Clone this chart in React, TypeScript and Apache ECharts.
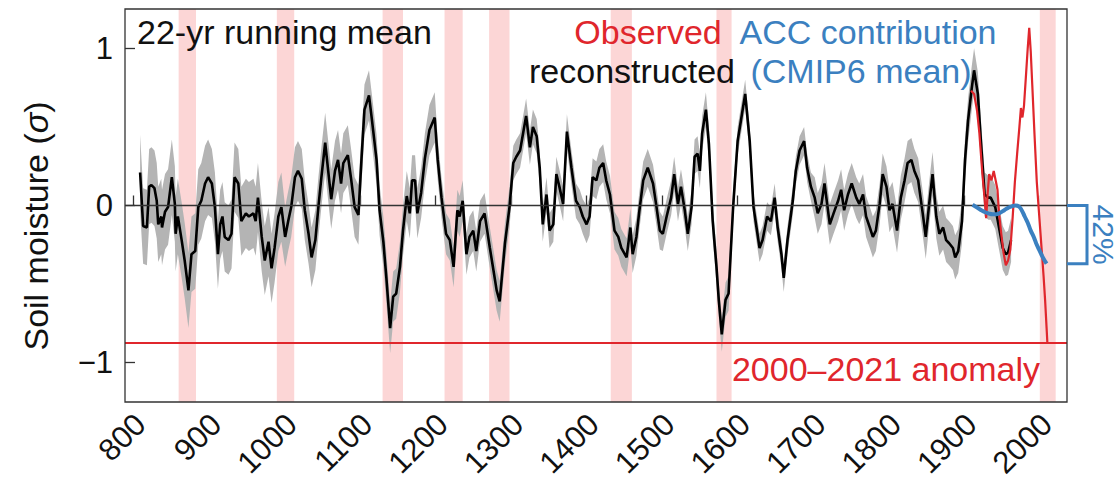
import React, { useEffect, useRef } from "react";
import * as echarts from "echarts";

const X_MIN = 789;
const X_MAX = 2036;
const Y_MIN = -1.25;
const Y_MAX = 1.25;

const xTickYears = [800, 900, 1000, 1100, 1200, 1300, 1400, 1500, 1600, 1700, 1800, 1900, 2000];
const yTickValues = [-1, 0, 1];

// megadrought bands (start year, end year)
const droughtBands: [number, number][] = [
  [860, 883], [990, 1013], [1130, 1157], [1212, 1236], [1271, 1298],
  [1432, 1460], [1572, 1592], [2000, 2021],
];

// 22-yr running mean, reconstructed soil moisture (sigma)
const reconstructed: [number, number][] = [
  [809, 0.21], [813, -0.13], [818, -0.14], [821, 0.12], [824, 0.13], [828, 0.11], [831, 0.03],
  [833, -0.12], [837, -0.07], [838, -0.14], [842, -0.04], [846, -0.01], [851, 0.18], [855, 0.01],
  [856, -0.18], [859, -0.07], [864, -0.22], [868, -0.35], [873, -0.54], [877, -0.31], [882, -0.29],
  [886, -0.01], [890, 0.03], [895, 0.14], [899, 0.18], [904, 0.14], [908, -0.01], [912, -0.31],
  [915, -0.12], [918, -0.07], [921, -0.2], [926, -0.22], [930, -0.18], [934, 0.18], [939, 0.14],
  [943, -0.1], [949, -0.05], [953, -0.07], [959, -0.05], [962, -0.1], [965, 0.05], [970, -0.2],
  [974, -0.35], [979, -0.23], [983, -0.4], [987, -0.27], [992, -0.07], [996, -0.01], [1001, -0.2],
  [1005, -0.1], [1009, -0.01], [1014, 0.18], [1018, 0.22], [1023, 0.17], [1027, -0.03], [1032, -0.18],
  [1036, -0.33], [1041, -0.22], [1045, -0.01], [1049, 0.18], [1054, 0.4], [1058, 0.22], [1062, 0.04],
  [1067, 0.22], [1071, 0.29], [1075, 0.14], [1078, 0.27], [1084, 0.32], [1088, 0.18], [1093, -0.01],
  [1098, -0.06], [1102, 0.29], [1106, 0.61], [1112, 0.7], [1116, 0.54], [1122, 0.29], [1126, -0.03],
  [1131, -0.23], [1135, -0.46], [1140, -0.78], [1144, -0.58], [1148, -0.56], [1153, -0.39], [1157, -0.16],
  [1162, 0.06], [1166, -0.05], [1169, 0.16], [1173, 0.16], [1176, -0.05], [1181, 0.08], [1186, 0.3],
  [1192, 0.48], [1199, 0.56], [1203, 0.29], [1208, 0.05], [1214, -0.18], [1219, -0.22], [1224, -0.39],
  [1229, -0.03], [1232, -0.07], [1236, 0.03], [1241, -0.31], [1245, -0.2], [1250, -0.16], [1254, -0.29],
  [1259, -0.1], [1265, -0.05], [1272, -0.27], [1276, -0.39], [1281, -0.54], [1285, -0.61], [1292, -0.24],
  [1298, -0.01], [1303, 0.27], [1307, 0.31], [1312, 0.35], [1316, 0.46], [1320, 0.57], [1325, 0.37],
  [1329, 0.5], [1334, 0.44], [1338, 0.24], [1342, -0.12], [1347, 0.07], [1351, -0.16], [1356, -0.12],
  [1360, 0.2], [1364, 0.12], [1369, 0.01], [1374, 0.47], [1380, 0.24], [1386, 0.03], [1391, -0.01],
  [1395, -0.07], [1400, -0.12], [1404, -0.07], [1408, 0.18], [1413, 0.16], [1417, 0.24], [1422, 0.27],
  [1426, 0.16], [1431, 0.07], [1437, -0.16], [1442, -0.2], [1446, -0.27], [1453, -0.33], [1458, -0.14],
  [1461, -0.31], [1466, -0.2], [1470, -0.03], [1475, 0.16], [1481, 0.24], [1488, 0.14], [1492, 0.01],
  [1497, -0.16], [1501, -0.18], [1506, -0.07], [1512, 0.05], [1516, 0.2], [1521, 0.01], [1525, 0.12],
  [1530, -0.03], [1534, -0.18], [1539, -0.01], [1543, 0.31], [1547, 0.33], [1550, 0.22], [1553, 0.46],
  [1558, 0.61], [1562, 0.39], [1567, -0.1], [1572, -0.39], [1575, -0.6], [1579, -0.82], [1584, -0.6],
  [1588, -0.56], [1594, -0.01], [1600, 0.41], [1605, 0.56], [1610, 0.71], [1616, 0.41], [1621, -0.01],
  [1625, -0.14], [1629, -0.27], [1633, -0.22], [1639, -0.07], [1644, -0.1], [1649, 0.05], [1653, -0.14],
  [1658, -0.31], [1661, -0.46], [1666, -0.22], [1673, 0.03], [1677, 0.22], [1682, 0.35], [1688, 0.41],
  [1692, 0.24], [1697, 0.12], [1702, 0.05], [1706, -0.05], [1711, 0.01], [1715, 0.14], [1722, -0.12],
  [1727, -0.05], [1733, 0.03], [1737, 0.1], [1741, -0.03], [1746, 0.07], [1751, 0.14], [1757, 0.05],
  [1761, 0.01], [1766, 0.07], [1770, -0.07], [1775, -0.14], [1779, -0.2], [1783, -0.16], [1788, 0.01],
  [1792, 0.2], [1797, 0.12], [1801, -0.03], [1805, 0.01], [1811, -0.16], [1816, 0.05], [1821, 0.16],
  [1825, 0.27], [1830, 0.29], [1834, 0.22], [1839, 0.16], [1845, -0.05], [1849, -0.2], [1854, 0.03],
  [1858, 0.2], [1863, -0.07], [1867, -0.18], [1872, -0.14], [1876, -0.22], [1880, -0.24], [1885, -0.27],
  [1888, -0.33], [1892, -0.29], [1897, -0.1], [1901, 0.29], [1905, 0.54], [1910, 0.75], [1913, 0.86],
  [1918, 0.71], [1922, 0.41], [1927, 0.07], [1932, 0.05], [1935, 0.05], [1941, -0.01], [1946, -0.14],
  [1951, -0.27], [1955, -0.31], [1958, -0.3], [1962, -0.22],
];

// half-width of the grey uncertainty envelope, per century
const reconSpreadByCentury: [number, number][] = [
  [800, 0.24], [900, 0.22], [1000, 0.19], [1100, 0.16], [1200, 0.13], [1300, 0.11],
  [1400, 0.12], [1500, 0.11], [1600, 0.09], [1700, 0.13], [1800, 0.14], [1900, 0.14],
];

// observed 22-yr running mean
const observed: [number, number][] = [
  [1909, 0.73], [1913, 0.71], [1917, 0.6], [1920, 0.46], [1924, 0.2], [1927, 0.04], [1929, -0.08],
  [1931, 0.08], [1933, 0.2], [1936, 0.16], [1939, 0.22], [1942, 0.15], [1944, 0.1], [1946, -0.05],
  [1949, -0.18], [1952, -0.3], [1955, -0.38], [1958, -0.35], [1961, -0.28], [1964, -0.08], [1967, 0.15],
  [1970, 0.33], [1973, 0.5], [1975, 0.62], [1977, 0.56], [1979, 0.63], [1982, 0.85], [1984, 1.0],
  [1986, 1.13], [1988, 0.98], [1990, 0.77], [1993, 0.45], [1996, 0.15], [1999, -0.05], [2002, -0.25],
  [2005, -0.45], [2007, -0.6], [2009, -0.78], [2010, -0.873],
];

// anthropogenic climate change contribution (CMIP6 mean)
const accContribution: [number, number][] = [
  [1911, 0.005], [1916, -0.01], [1921, -0.025], [1926, -0.04], [1932, -0.05], [1938, -0.055],
  [1943, -0.055], [1948, -0.045], [1953, -0.03], [1958, -0.015], [1963, -0.005], [1968, 0.0],
  [1972, -0.005], [1976, -0.03], [1980, -0.07], [1984, -0.11], [1988, -0.16], [1992, -0.2],
  [1996, -0.25], [2000, -0.29], [2004, -0.33], [2009, -0.37],
];

const anomaly2000to2021 = -0.873;
const accShareLabel = "42%";

const FONT = "'Liberation Sans', Arial, Helvetica, sans-serif";
const RED = "#e0262c";
const BLUE = "#3b80c0";
const PINK = "#fcd6d6";
const GREY = "#b4b4b4";
const ANN = 34;

function spreadFor(year: number): number {
  let s = reconSpreadByCentury[0][1];
  for (const [c, v] of reconSpreadByCentury) if (year >= c) s = v;
  return s;
}

export default function App() {
  const ref = useRef<HTMLDivElement>(null);

  useEffect(() => {
    if (!ref.current) return;
    const chart = echarts.init(ref.current, null, { renderer: "svg" });

    const upper = reconstructed.map(([x, y]) => [x, y + spreadFor(x)]);
    const lower = reconstructed.map(([x, y]) => [x, y - spreadFor(x)]);

    const option: any = {
      animation: false,
      grid: { left: 125, right: 52, top: 9, bottom: 80, outerBoundsMode: "none" },
      xAxis: {
        type: "value",
        min: X_MIN,
        max: X_MAX,
        axisLine: { show: false },
        splitLine: { show: false },
        axisTick: {
          inside: true,
          length: 10,
          customValues: xTickYears,
          lineStyle: { color: "#333", width: 1.3 },
        },
        axisLabel: {
          customValues: xTickYears,
          rotate: 45,
          fontSize: 31,
          lineHeight: 20,
          color: "#111",
          margin: 10,
          align: "right",
          verticalAlign: "top",
          fontFamily: FONT,
          formatter: (v: number) => String(v),
        },
      },
      yAxis: {
        type: "value",
        min: Y_MIN,
        max: Y_MAX,
        axisLine: { show: false },
        splitLine: { show: false },
        axisTick: {
          inside: true,
          length: 10,
          customValues: yTickValues,
          lineStyle: { color: "#333", width: 1.3 },
        },
        axisLabel: {
          customValues: yTickValues,
          fontSize: 31,
          color: "#111",
          margin: 12,
          fontFamily: FONT,
          formatter: (v: number) => (v < 0 ? "\u2212" + Math.abs(v) : String(v)),
        },
      },
      series: [
        {
          type: "line",
          name: "droughts",
          data: [],
          z: 1,
          silent: true,
          markArea: {
            silent: true,
            itemStyle: { color: PINK },
            data: droughtBands.map(([a, b]) => [{ xAxis: a }, { xAxis: b }]),
          },
        },
        {
          type: "custom",
          name: "uncertainty",
          z: 2,
          silent: true,
          data: reconstructed,
          encode: { x: 0, y: 1 },
          renderItem: (params: any, api: any) => {
            if (params.dataIndex !== 0) return null;
            const up = upper.map((p) => api.coord(p));
            const lo = lower.map((p) => api.coord(p)).reverse();
            return {
              type: "polygon",
              shape: { points: up.concat(lo) },
              style: { fill: GREY },
            };
          },
        },
        {
          type: "line",
          name: "zero",
          data: [],
          z: 3,
          silent: true,
          markLine: {
            silent: true,
            symbol: ["none", "none"],
            label: { show: false },
            lineStyle: { color: "#333", width: 1.3, type: "solid" },
            data: [{ yAxis: 0 }],
          },
        },
        {
          type: "line",
          name: "reconstructed",
          data: reconstructed,
          z: 4,
          showSymbol: false,
          symbol: "none",
          lineStyle: { color: "#000", width: 2.6 },
        },
        {
          type: "line",
          name: "anomaly",
          data: [],
          z: 5,
          silent: true,
          markLine: {
            silent: true,
            symbol: ["none", "none"],
            label: { show: false },
            lineStyle: { color: RED, width: 2.2, type: "solid" },
            data: [{ yAxis: anomaly2000to2021 }],
          },
        },
        {
          type: "line",
          name: "observed",
          data: observed,
          z: 6,
          symbol: "none",
          lineStyle: { color: RED, width: 2.2 },
        },
        {
          type: "line",
          name: "acc",
          data: accContribution,
          z: 7,
          symbol: "none",
          smooth: true,
          lineStyle: { color: BLUE, width: 4 },
        },
      ],
    };

    chart.setOption(option);

    const tl = chart.convertToPixel({ gridIndex: 0 }, [X_MIN, Y_MAX]) as number[];
    const br = chart.convertToPixel({ gridIndex: 0 }, [X_MAX, Y_MIN]) as number[];
    const z0 = chart.convertToPixel({ gridIndex: 0 }, [X_MAX, 0]) as number[];
    const accEnd = accContribution[accContribution.length - 1][1];
    const z1 = chart.convertToPixel({ gridIndex: 0 }, [X_MAX, accEnd]) as number[];

    const txt = (text: string, x: number, y: number, fill: string, align = "center") => ({
      type: "text",
      x,
      y,
      z: 100,
      silent: true,
      style: {
        text,
        fill,
        font: `${ANN}px ${FONT}`,
        textAlign: align,
        textVerticalAlign: "middle",
      },
    });

    chart.setOption({
      graphic: [
        {
          type: "rect",
          z: 90,
          silent: true,
          shape: { x: tl[0], y: tl[1], width: br[0] - tl[0], height: br[1] - tl[1] },
          style: { fill: "none", stroke: "#333", lineWidth: 1.3 },
        },
        txt("22-yr running mean", 137, 32, "#111", "left"),
        txt("Observed", 648, 32, RED),
        txt("reconstructed", 632, 71, "#111"),
        txt("ACC contribution", 868, 32, BLUE),
        txt("(CMIP6 mean)", 861, 71, BLUE),
        txt("2000\u20132021 anomaly", 886, 369, RED),
        {
          type: "text",
          x: 36,
          y: 226,
          rotation: Math.PI / 2,
          silent: true,
          style: {
            text: "{a|Soil moisture (}{b|\u03c3}{a|)}",
            fill: "#111",
            font: `${ANN}px ${FONT}`,
            textAlign: "center",
            textVerticalAlign: "middle",
            rich: {
              a: { fontSize: ANN, fontFamily: FONT, fill: "#111" },
              b: { fontSize: ANN, fontFamily: FONT, fontStyle: "italic", fill: "#111" },
            },
          },
        },
        {
          type: "polyline",
          z: 95,
          silent: true,
          shape: {
            points: [
              [z0[0], z0[1]],
              [z0[0] + 20, z0[1]],
              [z0[0] + 20, z1[1]],
              [z0[0], z1[1]],
            ],
          },
          style: { stroke: BLUE, lineWidth: 3, fill: "none" },
        },
        {
          type: "text",
          x: z0[0] + 36,
          y: (z0[1] + z1[1]) / 2,
          rotation: -Math.PI / 2,
          silent: true,
          style: {
            text: accShareLabel,
            fill: BLUE,
            font: `30px ${FONT}`,
            textAlign: "center",
            textVerticalAlign: "middle",
          },
        },
      ],
    });

    return () => chart.dispose();
  }, []);

  return (
    <div
      ref={ref}
      style={{ position: "fixed", left: 0, top: 0, width: 1119, height: 482, background: "#fff" }}
    />
  );
}
